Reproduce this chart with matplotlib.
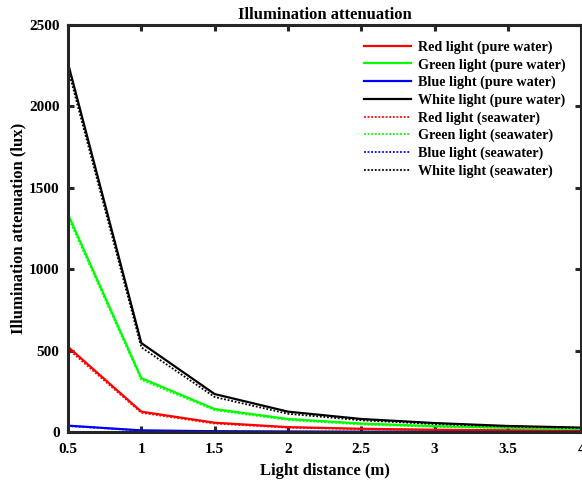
import matplotlib
matplotlib.use("Agg")
import matplotlib.pyplot as plt

distance = [0.5, 1.0, 1.5, 2.0, 2.5, 3.0, 3.5, 4.0]

red_pure = [523, 125, 57, 30, 20, 14, 10, 8]
green_pure = [1337, 331, 141, 80, 52, 36, 27, 21]
blue_pure = [39, 10, 5, 3, 2, 1.5, 1.2, 1]
white_pure = [2264, 546, 233, 125, 80, 55, 37, 27]

red_sea = [510, 118, 52, 27, 18, 12, 9, 7]
green_sea = [1320, 320, 134, 74, 46, 32, 24, 18]
blue_sea = [37, 9, 4, 2.5, 1.6, 1.2, 1, 0.8]
white_sea = [2230, 520, 215, 112, 72, 49, 34, 25]

labels_pure = ["Red light (pure water)", "Green light (pure water)",
               "Blue light (pure water)", "White light (pure water)"]
labels_sea = ["Red light (seawater)", "Green light (seawater)",
              "Blue light (seawater)", "White light (seawater)"]

xticks = [0.5, 1, 1.5, 2, 2.5, 3, 3.5, 4]
xticklabels = ["0.5", "1", "1.5", "2", "2.5", "3", "3.5", "4"]
yticks = [0, 500, 1000, 1500, 2000, 2500]

plt.rcParams['font.family'] = ['Liberation Serif', 'DejaVu Serif']
plt.rcParams['font.weight'] = 'bold'

fig = plt.figure(figsize=(5.82, 4.82), dpi=100)
ax = fig.add_axes([0.1168, 0.1037, 0.882, 0.845])

colors = ['#ff0000', '#00ff00', '#0000ff', '#000000']
for y, c, l in zip([red_pure, green_pure, blue_pure, white_pure], colors, labels_pure):
    ax.plot(distance, y, color=c, lw=1.6, label=l)
for y, c, l in zip([red_sea, green_sea, blue_sea, white_sea], colors, labels_sea):
    ax.plot(distance, y, color=c, lw=1.3, ls=(0, (1, 1)), label=l)

ax.set_xlim(0.5, 4)
ax.set_ylim(0, 2500)
ax.set_xticks(xticks)
ax.set_xticklabels(xticklabels)
ax.set_yticks(yticks)

for s in ax.spines.values():
    s.set_linewidth(2.2)
    s.set_color('#262626')
ax.tick_params(direction='in', top=True, right=True, length=4, width=2.2,
               color='#262626', labelsize=11)
ax.tick_params(axis='x', pad=8)
ax.tick_params(axis='y', pad=6)
for t in ax.get_xticklabels() + ax.get_yticklabels():
    t.set_fontweight('bold')

ax.set_title("Illumination attenuation", fontsize=12, fontweight='bold', pad=4)
ax.set_xlabel("Light distance (m)", fontsize=12, fontweight='bold', labelpad=5)
ax.set_ylabel("Illumination attenuation (lux)", fontsize=12, fontweight='bold', labelpad=2)

leg = ax.legend(loc='upper right', frameon=False,
                handlelength=3.3, handletextpad=0.5, labelspacing=0.3,
                borderaxespad=0.6, borderpad=0.5,
                prop={'weight': 'bold', 'size': 10.2})

fig.savefig("out.png", dpi=100)
